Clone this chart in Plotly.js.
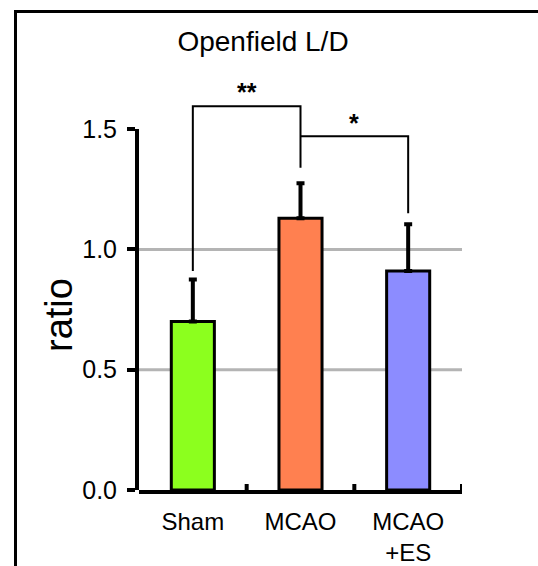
<!DOCTYPE html>
<html>
<head>
<meta charset="utf-8">
<script src="https://cdn.plot.ly/plotly-3.0.1.min.js"></script>
<style>
  html, body { margin: 0; padding: 0; background: #fff; }
  #wrap { position: relative; width: 538px; height: 566px; overflow: hidden; }
  #frame { position: absolute; left: 14px; top: 10px; width: 700px; height: 700px;
           border-left: 3px solid #000; border-top: 3px solid #000; box-sizing: border-box; }
  #chart { position: absolute; left: 0; top: 0; width: 538px; height: 566px; }
</style>
</head>
<body>
<div id="wrap">
  <div id="frame"></div>
  <div id="chart"></div>
</div>
<script>
// ---- data ----
const categories = ['Sham', 'MCAO', 'MCAO<br>+ES'];
const means      = [0.70, 1.13, 0.91];
const sems       = [0.175, 0.145, 0.195];
const barColors  = ['#8cff1e', '#ff8050', '#8c8cff'];
const yTickVals  = [0, 0.5, 1.0, 1.5];
const yTickText  = ['0.0', '0.5', '1.0', '1.5'];
const gridVals   = [0.5, 1.0];
// significance brackets: left/right category index, leg bottoms, top level
const bracketLeft    = [0, 1];
const bracketRight   = [1, 2];
const bracketLeftLo  = [0.91, 1.47];
const bracketRightLo = [1.34, 1.15];
const bracketTop     = [1.595, 1.47];
const bracketLabels  = ['**', '*'];
const bracketLabelY  = [1.655, 1.525];

const FONT = 'Liberation Sans, Arial, sans-serif';
const yTop = 1.75;                       // headroom for brackets
const yAxisMax = yTickVals[yTickVals.length - 1];

const trace = {
  type: 'bar',
  x: [0, 1, 2],
  y: means,
  width: 0.4,
  marker: { color: barColors, line: { color: '#000', width: 3 } },
  error_y: {
    type: 'data', symmetric: false, array: sems, arrayminus: sems.map(() => 0),
    color: '#000', thickness: 4, width: 4
  },
  hoverinfo: 'skip'
};
// empty trace to carry the visible y axis (ends at 1.5)
const axisTrace = { type: 'scatter', x: [], y: [], xaxis: 'x', yaxis: 'y2', hoverinfo: 'skip' };

const shapes = [];
gridVals.forEach(v => shapes.push({
  type: 'line', xref: 'x', yref: 'y', x0: -0.5, x1: 2.5, y0: v, y1: v,
  line: { color: '#b4b4b4', width: 3 }, layer: 'below'
}));
const annotations = [];
bracketLeft.forEach((l, i) => {
  const r = bracketRight[i], t = bracketTop[i];
  shapes.push({
    type: 'path', xref: 'x', yref: 'y',
    path: `M ${l},${bracketLeftLo[i]} L ${l},${t} L ${r},${t} L ${r},${bracketRightLo[i]}`,
    line: { color: '#000', width: 2 }
  });
  annotations.push({
    xref: 'x', yref: 'y', x: (l + r) / 2, y: bracketLabelY[i], text: '<b>' + bracketLabels[i] + '</b>',
    showarrow: false, font: { family: FONT, size: 25, color: '#000' }
  });
});
annotations.push({
  xref: 'paper', yref: 'y', x: -0.248, y: 0.727, text: 'ratio', textangle: -90,
  showarrow: false, xanchor: 'center', yanchor: 'middle',
  font: { family: FONT, size: 38, color: '#000' }
});
// inward ticks at category boundaries on x axis
[0.5, 1.5, 2.5].forEach(b => shapes.push({
  type: 'line', xref: 'x', yref: 'y', x0: b, x1: b, y0: 0, y1: 0.025,
  line: { color: '#000', width: 4 }
}));

const layout = {
  width: 538, height: 566,
  margin: { l: 139, r: 76, t: 69, b: 76 },
  paper_bgcolor: 'rgba(0,0,0,0)', plot_bgcolor: 'rgba(0,0,0,0)',
  showlegend: false,
  title: {
    text: 'Openfield L/D', xref: 'container', yref: 'container',
    x: 263 / 538, xanchor: 'center', y: 1 - 41 / 566, yanchor: 'middle',
    font: { family: FONT, size: 28, color: '#000' }
  },
  xaxis: {
    range: [-0.5, 2.5], tickmode: 'array', tickvals: [0, 1, 2], ticktext: categories,
    showline: true, linecolor: '#000', linewidth: 4,
    ticks: '', showgrid: false, zeroline: false,
    tickfont: { family: FONT, size: 24, color: '#000' },
    ticklabelstandoff: 7
  },
  yaxis: {
    range: [0, yTop], domain: [0, 1],
    showline: false, ticks: '', showticklabels: false,
    showgrid: false, zeroline: false
  },
  yaxis2: {
    range: [0, yAxisMax], domain: [0, yAxisMax / yTop], anchor: 'x',
    tickmode: 'array', tickvals: yTickVals, ticktext: yTickText,
    showline: true, linecolor: '#000', linewidth: 4,
    ticks: 'outside', ticklen: 8, tickwidth: 4, tickcolor: '#000',
    showgrid: false, zeroline: false,
    tickfont: { family: FONT, size: 25, color: '#000' },
    ticklabelstandoff: 5
  },
  shapes: shapes,
  annotations: annotations
};

Plotly.newPlot('chart', [trace, axisTrace], layout, { displayModeBar: false, staticPlot: true });
</script>
</body>
</html>
